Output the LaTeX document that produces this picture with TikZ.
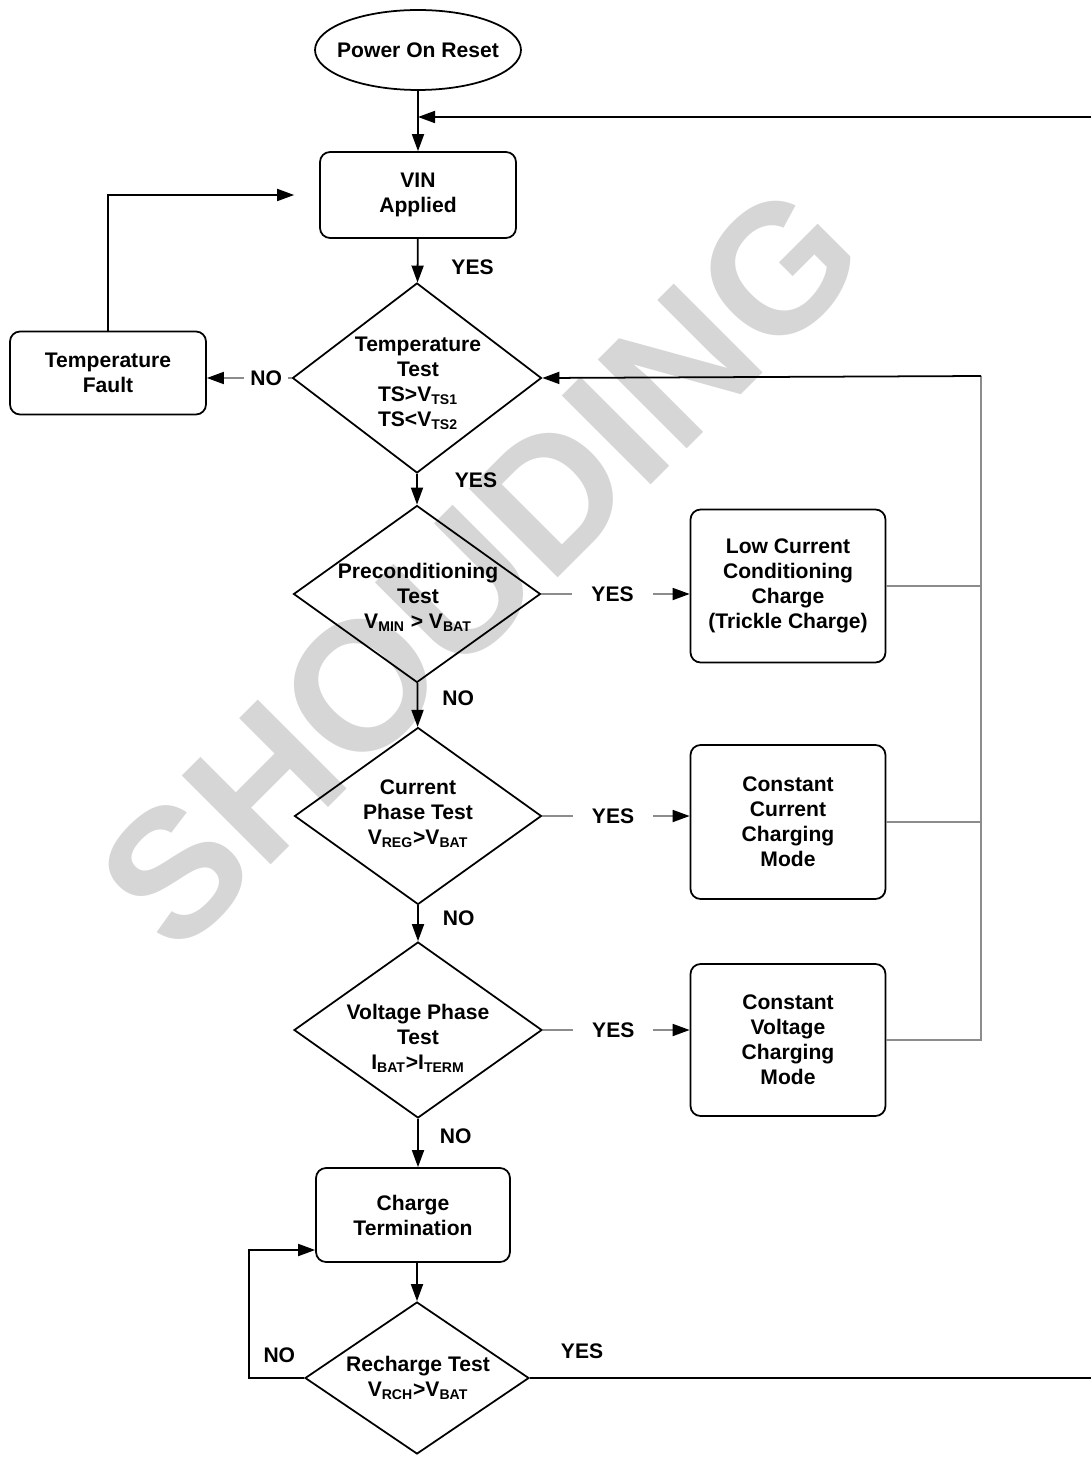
\documentclass[tikz,border=0pt]{standalone}
\usepackage{fontspec}
\setmainfont{Liberation Sans}
\usetikzlibrary{shapes.geometric,arrows.meta}

\begin{document}
\begin{tikzpicture}[x=0.02cm, y=-0.02cm,
    font=\fontsize{12}{14.2}\selectfont\bfseries,
    boxStyle/.style={rectangle, rounded corners=0.2cm, draw, line width=1pt, align=center, minimum width=3.92cm},
    diaStyle/.style={diamond, draw, line width=1pt, inner sep=0pt},
    txtStyle/.style={align=center, inner sep=0pt},
    lblStyle/.style={fill=white, inner xsep=0.38cm, inner ysep=2pt},
    arr/.style={-{Triangle[length=0.34cm, width=0.24cm]}, line width=1pt},
    grayArr/.style={-{Triangle[length=0.34cm, width=0.24cm, color=black]}, draw=black!45, line width=1pt},
    feed/.style={draw=black!45, line width=1pt}]
    \useasboundingbox (0,0) rectangle (1091,1459);

    % watermark
    \node[rotate=45, text=black!16, font=\fontsize{104}{104}\selectfont\bfseries] (mark) at (480,567) {SHOUDING};

    % start
    \node[ellipse, draw, line width=1pt, minimum width=4.12cm, minimum height=1.6cm, inner sep=0pt] (por) at (418,50) {};
    \node[txtStyle] (por_t) at (por) {Power On Reset};
    \node[boxStyle, minimum height=1.72cm] (vin) at (418,195) {VIN\\Applied};
    \node[boxStyle, minimum height=1.66cm] (fault) at (108,373) {Temperature\\Fault};

    % tests
    \node[diaStyle, minimum width=4.98cm, minimum height=3.8cm] (temp) at (417,378) {};
    \node[txtStyle] (temp_t) at (418,383) {Temperature\\Test\\TS>V\textsubscript{TS1}\\TS<V\textsubscript{TS2}};
    \node[diaStyle, minimum width=4.94cm, minimum height=3.54cm] (pre) at (417,594) {};
    \node[txtStyle] (pre_t) at (418,597) {Preconditioning\\Test\\V\textsubscript{MIN} > V\textsubscript{BAT}};
    \node[diaStyle, minimum width=4.94cm, minimum height=3.54cm] (cur) at (418,816) {};
    \node[txtStyle] (cur_t) at (418,814) {Current\\Phase Test\\V\textsubscript{REG}>V\textsubscript{BAT}};
    \node[diaStyle, minimum width=4.96cm, minimum height=3.52cm] (volt) at (418,1030) {};
    \node[txtStyle] (volt_t) at (418,1038) {Voltage Phase\\Test\\I\textsubscript{BAT}>I\textsubscript{TERM}};

    % charge modes
    \node[boxStyle, minimum width=3.9cm, minimum height=3.06cm] (low) at (788,586) {Low Current\\Conditioning\\Charge\\(Trickle Charge)};
    \node[boxStyle, minimum width=3.9cm, minimum height=3.08cm] (cc) at (788,822) {Constant\\Current\\Charging\\Mode};
    \node[boxStyle, minimum width=3.9cm, minimum height=3.04cm] (cv) at (788,1040) {Constant\\Voltage\\Charging\\Mode};

    % end
    \node[boxStyle, minimum width=3.88cm, minimum height=1.88cm] (term) at (413,1215) {Charge\\Termination};
    \node[diaStyle, minimum width=4.48cm, minimum height=3.04cm] (rech) at (417,1378) {};
    \node[txtStyle] (rech_t) at (418,1378) {Recharge Test\\V\textsubscript{RCH}>V\textsubscript{BAT}};

    \coordinate (topIn) at (1091,117);
    \coordinate (fbTop) at (981,376);
    \coordinate (noCorner) at (249,1378);
    \coordinate (yesEnd) at (1091,1378);

    \draw[arr] (por.south) -- (vin.north);
    \draw[arr] (topIn) -- (topIn -| vin.north);
    \draw[arr] (vin) -- node[pos=0.66, right=0.66cm, inner sep=0pt] {YES} (temp);
    \draw[grayArr] (temp.west) -- node[pos=0.3, fill=white, inner xsep=0.12cm] {NO} (temp.west -| fault.east);
    \draw[arr] (fault.north) |- ([xshift=-0.5cm]vin.west);
    \draw[arr] (temp) -- node[pos=0.22, right=0.74cm, inner sep=0pt] {YES} (pre);

    \draw[grayArr] (pre.east) -- node[pos=0.48, lblStyle] {YES} (pre.east -| low.west);
    \draw[arr] (pre) -- node[pos=0.35, right=0.48cm, inner sep=0pt] {NO} (cur);
    \draw[grayArr] (cur.east) -- node[pos=0.48, lblStyle] {YES} (cur.east -| cc.west);
    \draw[arr] (cur) -- node[pos=0.36, right=0.48cm, inner sep=0pt] {NO} (volt);
    \draw[grayArr] (volt.east) -- node[pos=0.48, lblStyle] {YES} (volt.east -| cv.west);
    \draw[arr] (volt.south) -- node[pos=0.35, right=0.42cm, inner sep=0pt] {NO} (volt.south |- term.north);

    % back to temperature test
    \draw[feed] (low.east) -- (low.east -| fbTop);
    \draw[feed] (cc.east) -- (cc.east -| fbTop);
    \draw[feed] (cv.east) -- (cv.east -| fbTop) -- (fbTop);
    \draw[arr] (fbTop) -- (temp.east);

    \draw[arr] (rech.north |- term.south) -- (rech.north);
    \draw[arr] (rech.west) -- node[pos=0.45, above=0.28cm, inner sep=0pt] {NO} (noCorner) |- ([yshift=-0.7cm]term.west);
    \draw[line width=1pt] (rech.east) -- node[pos=0.093, above=0.36cm, inner sep=0pt] {YES} (yesEnd);
\end{tikzpicture}
\end{document}
